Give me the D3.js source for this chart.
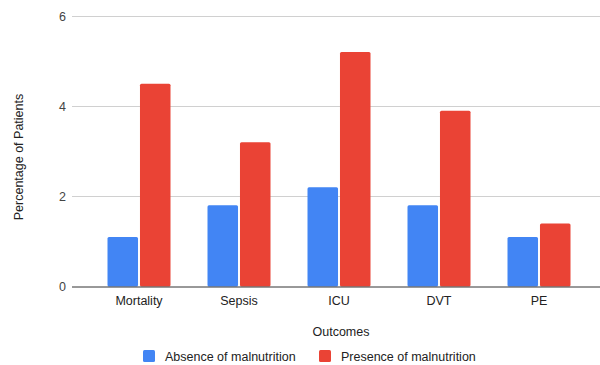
<!DOCTYPE html>
<html>
<head>
<meta charset="utf-8">
<script src="https://cdn.jsdelivr.net/npm/d3@7"></script>
<style>
  body { margin: 0; background: #fff; }
  svg { display: block; font-family: "Liberation Sans", Arial, sans-serif; }
</style>
</head>
<body>
<svg id="chart" width="600" height="365"></svg>
<script>
const categories = ["Mortality", "Sepsis", "ICU", "DVT", "PE"]
const seriesNames = ["Absence of malnutrition", "Presence of malnutrition"]
const absenceValues = [1.1, 1.8, 2.2, 1.8, 1.1]
const presenceValues = [4.5, 3.2, 5.2, 3.9, 1.4]
const yTicks = [0, 2, 4, 6]

const colors = { "Absence of malnutrition": "#4285f4", "Presence of malnutrition": "#ea4335" }
const fontSize = 12.5

const data = categories.map((c, i) => ({
  category: c,
  values: [
    { series: seriesNames[0], value: absenceValues[i] },
    { series: seriesNames[1], value: presenceValues[i] },
  ],
}))

const svg = d3.select("#chart")
const plotLeft = 72, plotRight = 600, plotTop = 16, plotBottom = 286.5

const x = d3.scaleBand()
  .domain(categories)
  .range([89, 589])
  .paddingInner(0.37)
  .paddingOuter(0.185)

const xInner = d3.scaleBand()
  .domain(seriesNames)
  .range([0, x.bandwidth()])
  .paddingInner(0.06)

const y = d3.scaleLinear().domain([0, 6]).range([plotBottom, plotTop])

// gridlines
svg.append("g")
  .selectAll("line")
  .data(yTicks.filter((d) => d !== 0))
  .join("line")
  .attr("x1", plotLeft)
  .attr("x2", plotRight)
  .attr("y1", (d) => Math.round(y(d)) + 0.5)
  .attr("y2", (d) => Math.round(y(d)) + 0.5)
  .attr("stroke", "#d0d0d0")
  .attr("stroke-width", 1)

// y tick labels
svg.append("g")
  .selectAll("text")
  .data(yTicks)
  .join("text")
  .attr("x", 66)
  .attr("y", (d) => y(d) + 4.5)
  .attr("text-anchor", "end")
  .attr("font-size", fontSize)
  .attr("fill", "#444")
  .text((d) => d)

// bars
const groups = svg.append("g")
  .selectAll("g")
  .data(data)
  .join("g")
  .attr("transform", (d) => `translate(${x(d.category)},0)`)

groups.selectAll("rect")
  .data((d) => d.values)
  .join("rect")
  .attr("x", (d) => xInner(d.series))
  .attr("y", (d) => y(d.value))
  .attr("width", xInner.bandwidth())
  .attr("height", (d) => y(0) - y(d.value))
  .attr("rx", 1.5)
  .attr("fill", (d) => colors[d.series])

// baseline
svg.append("line")
  .attr("x1", plotLeft)
  .attr("x2", plotRight)
  .attr("y1", plotBottom + 0.5)
  .attr("y2", plotBottom + 0.5)
  .attr("stroke", "#333")
  .attr("stroke-width", 1)

// x labels
svg.append("g")
  .selectAll("text")
  .data(categories)
  .join("text")
  .attr("x", (d) => x(d) + x.bandwidth() / 2)
  .attr("y", 305)
  .attr("text-anchor", "middle")
  .attr("font-size", fontSize)
  .attr("fill", "#222")
  .text((d) => d)

// axis titles
svg.append("text")
  .attr("x", 341)
  .attr("y", 336)
  .attr("text-anchor", "middle")
  .attr("font-size", fontSize)
  .attr("fill", "#222")
  .text("Outcomes")

svg.append("text")
  .attr("transform", "translate(23,157) rotate(-90)")
  .attr("text-anchor", "middle")
  .attr("font-size", fontSize)
  .attr("fill", "#222")
  .text("Percentage of Patients")

// legend
const legendX = [143, 319]
const legend = svg.append("g")
  .selectAll("g")
  .data(seriesNames)
  .join("g")
  .attr("transform", (d, i) => `translate(${legendX[i]},350)`)

legend.append("rect")
  .attr("width", 12)
  .attr("height", 12)
  .attr("rx", 1.5)
  .attr("fill", (d) => colors[d])

legend.append("text")
  .attr("x", 22)
  .attr("y", 11)
  .attr("font-size", fontSize)
  .attr("fill", "#222")
  .text((d) => d)
</script>
</body>
</html>
